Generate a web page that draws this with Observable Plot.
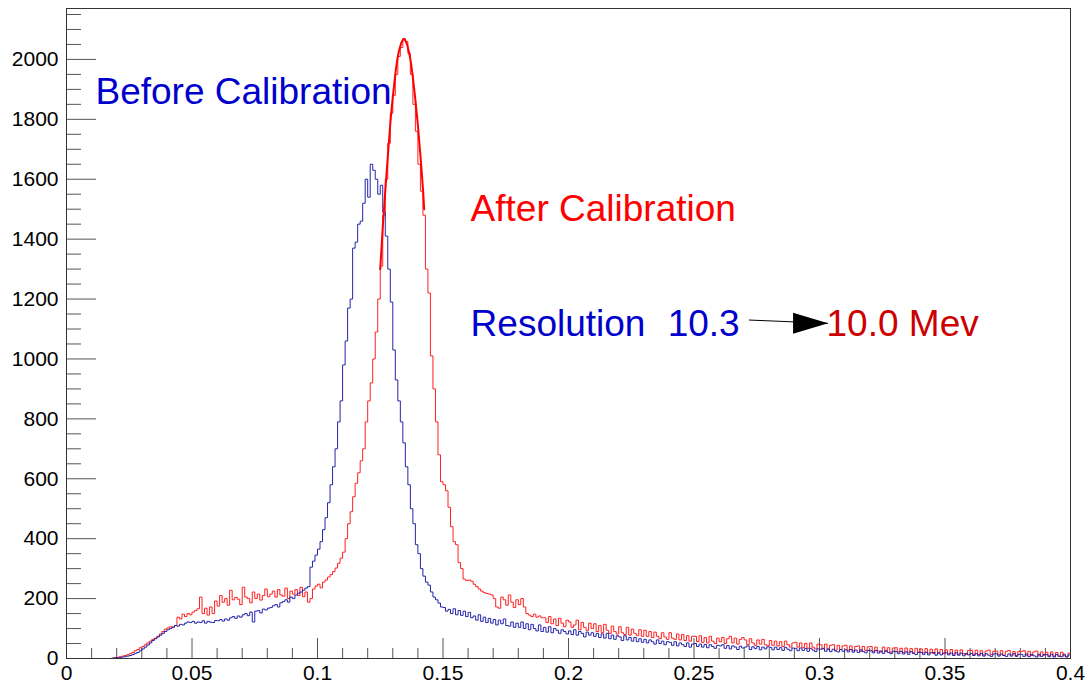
<!DOCTYPE html>
<html>
<head>
<meta charset="utf-8">
<script src="https://cdn.jsdelivr.net/npm/d3@7"></script>
<script src="https://cdn.jsdelivr.net/npm/@observablehq/plot@0.6"></script>
<style>
  html, body { margin: 0; padding: 0; background: #ffffff; }
  #chart { width: 1085px; height: 689px; }
</style>
</head>
<body>
<div id="chart"></div>
<script>
// ---------------- DATA ----------------
const binWidth = 0.001; // histogram bins from 0 to 0.4

// "Before Calibration" histogram counts (bin i covers [i*0.001, (i+1)*0.001))
const beforeCounts = [
  0,0,0,0,0,0,0,0,0,0,
  0,0,0,0,0,0,0,0,1,2,
  3,3,5,6,8,10,13,17,20,26,
  32,38,45,52,60,66,72,78,84,90,
  96,100,105,110,108,114,112,118,122,120,
  124,118,122,120,126,118,124,121,120,127,
  126,130,125,132,128,136,140,134,142,138,
  146,150,143,155,122,158,160,152,165,162,
  168,170,176,180,172,186,190,196,188,205,
  200,212,218,222,228,235,240,305,325,345,
  365,390,430,470,520,580,640,700,790,860,
  980,1060,1170,1200,1370,1390,1450,1460,1520,1600,
  1540,1650,1630,1600,1550,1580,1490,1410,1300,1190,
  1030,930,860,790,720,640,580,500,450,380,
  350,300,275,255,245,222,205,196,185,172,
  170,158,164,150,166,146,160,144,158,140,
  154,136,142,128,146,124,138,120,134,118,
  130,112,128,116,132,110,108,122,104,118,
  104,122,100,116,96,114,100,92,112,90,
  104,88,106,86,100,94,84,96,90,82,
  92,80,96,78,90,84,72,88,78,86,
  74,84,70,82,68,84,66,78,64,76,
  72,60,76,62,70,58,70,56,66,54,
  64,52,62,56,48,62,50,58,46,56,
  54,44,56,42,52,46,40,52,38,48,
  50,40,48,38,47,36,46,40,34,44,
  42,46,34,43,32,42,38,30,41,35,
  38,42,30,39,33,40,29,38,32,39,
  37,29,38,30,36,27,37,31,26,35,
  34,26,35,27,33,24,34,28,23,32,
  31,34,24,32,23,31,25,22,30,24,
  29,22,30,21,28,20,29,23,19,27,
  26,19,27,18,25,17,26,20,16,24,
  23,16,24,15,22,14,23,17,13,21,
  20,13,21,12,19,20,11,19,12,18,
  19,12,18,10,19,11,18,9,17,12,
  17,10,16,9,17,8,16,11,7,15,
  16,8,15,10,7,15,8,16,7,14,
  14,7,15,6,14,9,5,14,7,13,
  13,6,14,5,13,8,6,14,5,12
];

// "After Calibration" histogram counts
const afterCounts = [
  0,0,0,0,0,0,0,0,0,0,
  0,0,0,0,0,0,0,0,1,3,
  4,6,8,10,13,16,20,26,30,36,
  40,46,52,58,64,68,74,82,90,98,
  102,106,104,110,138,132,148,140,150,146,
  155,160,166,205,150,168,145,172,150,192,
  175,210,188,200,178,228,196,204,198,180,
  238,205,200,186,222,200,215,195,210,232,
  206,215,225,205,230,212,208,235,200,225,
  215,230,210,238,206,222,188,200,232,242,
  248,236,255,262,272,280,290,302,318,335,
  355,400,450,490,540,585,620,660,700,790,
  860,920,1000,1090,1200,1310,1480,1600,1720,1820,
  1880,1950,2010,2040,2070,2060,2020,1950,1850,1760,
  1650,1560,1480,1300,1220,1010,900,790,680,590,
  580,560,505,440,390,380,320,300,265,260,
  262,258,248,240,232,225,220,217,215,212,
  200,172,168,205,196,178,212,188,170,196,
  180,200,172,150,145,140,148,138,142,136,
  136,120,140,116,132,110,134,118,106,128,
  122,104,112,128,96,120,104,94,118,100,
  116,90,110,86,114,94,84,108,90,82,
  106,86,80,104,78,98,84,76,96,74,
  94,74,90,70,88,74,66,86,72,64,
  86,68,64,82,62,80,60,76,58,74,
  74,56,76,54,70,52,74,58,50,68,
  56,70,50,66,74,52,68,48,64,70,
  62,46,66,52,44,62,48,64,46,42,
  60,44,58,42,56,40,58,46,38,52,
  54,38,52,36,50,34,52,38,32,48,
  46,32,48,30,44,46,28,44,30,42,
  44,28,42,26,40,42,24,40,27,39,
  40,24,38,25,22,38,24,36,21,35,
  36,22,34,20,35,21,33,19,34,20,
  32,19,33,18,31,17,32,18,30,16,
  29,16,30,15,28,14,29,16,13,27,
  27,14,28,13,26,12,25,28,13,24,
  25,12,26,11,24,27,12,23,10,24,
  23,26,11,24,10,22,25,9,22,11,
  21,9,22,8,20,7,21,9,6,18
];

// Gaussian fit curve drawn over the "after" peak
const fitX = [0.125,0.126,0.127,0.128,0.129,0.130,0.131,0.132,0.133,0.134,0.135,0.136,0.137,0.138,0.139,0.140,0.141,0.142,0.1425];
const fitY = [1300,1440,1560,1675,1785,1875,1950,2010,2045,2065,2063,2040,2000,1940,1865,1780,1680,1570,1500];

// Axis ticks
const xMajorTicks = [0,0.05,0.1,0.15,0.2,0.25,0.3,0.35,0.4];
const xMinorTicks = [0.01,0.02,0.03,0.04,0.06,0.07,0.08,0.09,0.11,0.12,0.13,0.14,0.16,0.17,0.18,0.19,
  0.21,0.22,0.23,0.24,0.26,0.27,0.28,0.29,0.31,0.32,0.33,0.34,0.36,0.37,0.38,0.39];
const yMajorTicks = [0,200,400,600,800,1000,1200,1400,1600,1800,2000];
const yMinorTicks = [50,100,150,250,300,350,450,500,550,650,700,750,850,900,950,1050,1100,1150,
  1250,1300,1350,1450,1500,1550,1650,1700,1750,1850,1900,1950,2050,2100,2150];

// Annotation texts (anchored in data coordinates)
const labelTexts = ["Before Calibration", "After Calibration", "Resolution", "10.3", "10.0 Mev"];
const labelX = [0.01155, 0.161, 0.161, 0.2395, 0.3028];
const labelY = [1850, 1459, 1076, 1076, 1076];
const labelColor = ["#0000cc", "#ff0000", "#0000cc", "#0000cc", "#cc0000"];

// Arrow from "10.3" to "10.0 Mev"
const arrowFrom = {x: 0.2719, y: 1130};
const arrowTo = {x: 0.3034, y: 1119};

// ---------------- CHART ----------------
const W = 1085, H = 689;
const mL = 66, mR = 15, mT = 8, mB = 31;
const fw = W - mL - mR, fh = H - mT - mB;
const font = "'Liberation Sans', Arial, Helvetica, sans-serif";

function toSteps(counts) {
  const pts = counts.map((v, i) => ({x: i * binWidth, y: v}));
  pts.push({x: counts.length * binWidth, y: counts[counts.length - 1]});
  return pts;
}
const beforeSeries = toSteps(beforeCounts);
const afterSeries = toSteps(afterCounts);
const fitSeries = fitX.map((x, i) => ({x, y: fitY[i]}));
const labels = labelTexts.map((t, i) => ({text: t, x: labelX[i], y: labelY[i], color: labelColor[i]}));

// filled arrow head pointing right, tip at the origin
const arrowHead = {
  draw(context) {
    context.moveTo(0, 0);
    context.lineTo(-35, -10.5);
    context.lineTo(-35, 10.5);
    context.closePath();
  }
};

const tickColor = "#555555";

const chart = Plot.plot({
  width: W, height: H,
  marginLeft: mL, marginRight: mR, marginTop: mT, marginBottom: mB,
  x: {domain: [0, 0.4]},
  y: {domain: [0, 2170]},
  color: {type: "identity"},
  style: {fontFamily: font, background: "#ffffff", color: "#000000"},
  marks: [
    Plot.tickY(yMinorTicks, {y: d => d, insetRight: fw - 15, stroke: tickColor, strokeWidth: 1}),
    Plot.tickY(yMajorTicks, {y: d => d, insetRight: fw - 30, stroke: tickColor, strokeWidth: 1}),
    Plot.tickX(xMinorTicks, {x: d => d, insetTop: fh - 10, stroke: tickColor, strokeWidth: 1}),
    Plot.tickX(xMajorTicks, {x: d => d, insetTop: fh - 20, stroke: tickColor, strokeWidth: 1}),
    Plot.line(afterSeries, {x: "x", y: "y", curve: "step-after", stroke: "#ff2020", strokeWidth: 1}),
    Plot.line(beforeSeries, {x: "x", y: "y", curve: "step-after", stroke: "#2424aa", strokeWidth: 1}),
    Plot.line(fitSeries, {x: "x", y: "y", curve: "natural", stroke: "#ff0000", strokeWidth: 2}),
    Plot.axisX({ticks: xMajorTicks, tickSize: 0, tickPadding: 7, fontSize: 21, label: null,
      tickFormat: d => String(d), fill: "#000000"}),
    Plot.axisY({ticks: yMajorTicks, tickSize: 0, tickPadding: 8, fontSize: 21, label: null,
      tickFormat: d => String(d), fill: "#000000"}),
    Plot.frame({stroke: "#333333", strokeWidth: 1}),
    Plot.text(labels, {x: "x", y: "y", text: "text", fill: "color", fontSize: 37,
      textAnchor: "start", lineAnchor: "bottom", fontFamily: font}),
    Plot.link([{x1: arrowFrom.x, y1: arrowFrom.y, x2: arrowTo.x, y2: arrowTo.y}],
      {x1: "x1", y1: "y1", x2: "x2", y2: "y2", stroke: "#000000", strokeWidth: 1}),
    Plot.dot([arrowTo], {x: "x", y: "y", symbol: arrowHead, fill: "#000000", stroke: "none"})
  ]
});
document.getElementById("chart").appendChild(chart);
</script>
</body>
</html>
